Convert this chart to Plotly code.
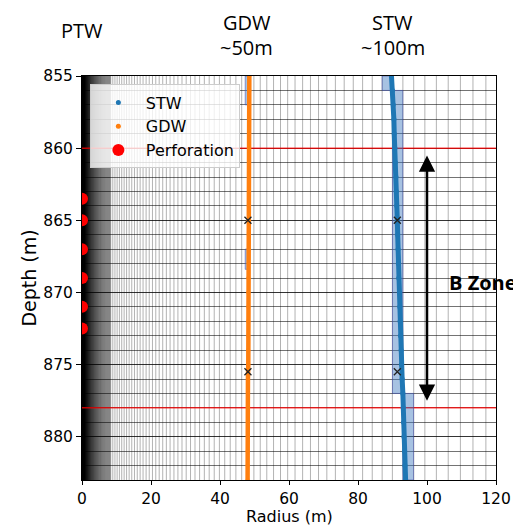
import plotly.graph_objects as go

# ---------------- data ----------------
depth_stw = [855, 856, 857, 858, 859, 860, 861, 862, 863, 864, 865, 866, 867, 868, 869,
             870, 871, 872, 873, 874, 875, 876, 877, 878, 879, 880, 881, 882, 883]
radius_stw = [89.7, 90.0, 90.2, 90.4, 90.5, 90.7, 90.8, 91.0, 91.1, 91.2, 91.4, 91.5, 91.6, 91.7, 91.8,
              92.0, 92.1, 92.2, 92.3, 92.5, 92.6, 92.8, 93.0, 93.1, 93.2, 93.3, 93.5, 93.6, 93.8]

depth_gdw = depth_stw
radius_gdw = [48.5, 48.5, 48.5, 48.5, 48.4, 48.4, 48.4, 48.4, 48.4, 48.3, 48.3, 48.3, 48.3, 48.3, 48.2,
              48.2, 48.2, 48.2, 48.2, 48.2, 48.2, 48.1, 48.1, 48.1, 48.1, 48.1, 48.0, 48.0, 48.0]

perf_depth = [863.5, 865, 867, 869, 871, 872.5]
perf_radius = [0, 0, 0, 0, 0, 0]

obs_radius = [48.1, 48.1, 91.4, 91.4]
obs_depth = [865, 875.5, 865, 875.5]

zone_lines = [860, 878]

stw_cell_top = [855, 856, 877]
stw_cell_bottom = [856, 877, 883]
stw_cell_left = [87.0, 90.0, 93.0]
stw_cell_right = [90.0, 93.0, 96.1]

gdw_cell_top = [855, 867]
gdw_cell_bottom = [857, 868.4]
gdw_cell_left = [47.3, 47.3]
gdw_cell_right = [48.3, 48.3]

well_names = ["PTW", "GDW", "STW"]
well_dist = ["", "~50m", "~100m"]
well_label_r = [0, 47.7, 90.1]

zone_arrow_r = 100
zone_arrow_top = 860.4
zone_arrow_bottom = 877.5
zone_text = "B Zone"

x_title = "Radius (m)"
y_title = "Depth (m)"
x_ticks = [0, 20, 40, 60, 80, 100, 120]
y_ticks = [855, 860, 865, 870, 875, 880]

# ---------------- radial simulation mesh (background) ----------------
ANCHOR, GROWTH, ADD = 87.0, 0.03, 0.35
mesh = [ANCHOR]
r = ANCHOR
while r < 121:
    r = r + GROWTH * r + ADD
    mesh.append(r)
r = ANCHOR
while True:
    r = (r - ADD) / (1 + GROWTH)
    if r < 8:
        break
    mesh.insert(0, r)
r = mesh[0]
while r > 0.03:
    r = r - min(0.15, 0.02 * r + 0.01)
    if r > 0:
        mesh.insert(0, r)

BLUE = "#1f77b4"
ORANGE = "#ff7f0e"

fig = go.Figure()

# red zone lines
for d in zone_lines:
    fig.add_trace(go.Scatter(x=[0, 120], y=[d, d], mode="lines",
                             line=dict(color="rgba(255,0,0,0.75)", width=1.5),
                             showlegend=False, hoverinfo="skip"))

# front cells
for t, b, l, rr in zip(stw_cell_top, stw_cell_bottom, stw_cell_left, stw_cell_right):
    fig.add_trace(go.Scatter(x=[l, rr, rr, l, l], y=[t, t, b, b, t], mode="lines",
                             fill="toself", fillcolor="rgba(60,120,190,0.45)",
                             line=dict(color="rgba(70,80,170,0.55)", width=1),
                             showlegend=False, hoverinfo="skip"))
for t, b, l, rr in zip(gdw_cell_top, gdw_cell_bottom, gdw_cell_left, gdw_cell_right):
    fig.add_trace(go.Scatter(x=[l, rr, rr, l, l], y=[t, t, b, b, t], mode="lines",
                             fill="toself", fillcolor="rgba(60,120,190,0.45)",
                             line=dict(color="rgba(70,80,170,0.55)", width=1),
                             showlegend=False, hoverinfo="skip"))

# STW / GDW fronts
fig.add_trace(go.Scatter(x=radius_stw, y=depth_stw, mode="lines+markers",
                         line=dict(color=BLUE, width=5),
                         marker=dict(color=BLUE, size=5),
                         showlegend=False))
fig.add_trace(go.Scatter(x=radius_gdw, y=depth_gdw, mode="lines+markers",
                         line=dict(color=ORANGE, width=4.5),
                         marker=dict(color=ORANGE, size=4),
                         showlegend=False))

# perforations
fig.add_trace(go.Scatter(x=perf_radius, y=perf_depth, mode="markers",
                         marker=dict(color="red", size=12), cliponaxis=True,
                         showlegend=False))

# observation points
fig.add_trace(go.Scatter(x=obs_radius, y=obs_depth, mode="markers",
                         marker=dict(symbol="x-thin", size=7,
                                     line=dict(color="#222222", width=1.3)),
                         showlegend=False))

# legend-only entries
fig.add_trace(go.Scatter(x=[None], y=[None], mode="markers", name="STW",
                         marker=dict(color=BLUE, size=5)))
fig.add_trace(go.Scatter(x=[None], y=[None], mode="markers", name="GDW",
                         marker=dict(color=ORANGE, size=5)))
fig.add_trace(go.Scatter(x=[None], y=[None], mode="markers", name="Perforation",
                         marker=dict(color="red", size=12)))

shapes = []
for m in mesh:
    if 0 < m < 120:
        shapes.append(dict(type="line", xref="x", yref="paper", x0=m, x1=m, y0=0, y1=1,
                           line=dict(color="rgba(0,0,0,0.3)", width=1), layer="below"))

PLOT_H = 404.0
TOP = 68.0
annotations = []
LABEL_FONT = dict(family="Open Sans", size=20, color="black")
for name, dist, xr in zip(well_names, well_dist, well_label_r):
    if dist:
        annotations.append(dict(text=name, x=xr, xref="x", y=1 + TOP / PLOT_H, yref="paper",
                                xanchor="center", yanchor="top", showarrow=False,
                                borderpad=0, font=LABEL_FONT))
        annotations.append(dict(text=dist, x=xr, xref="x", y=1 + (TOP - 40) / PLOT_H, yref="paper",
                                xanchor="center", yanchor="middle", showarrow=False,
                                borderpad=0, font=LABEL_FONT))
    else:
        annotations.append(dict(text=name, x=xr, xref="x", y=1 + (TOP - 22.3) / PLOT_H, yref="paper",
                                xanchor="center", yanchor="middle", showarrow=False,
                                borderpad=0, font=LABEL_FONT))
annotations.append(dict(text="", x=zone_arrow_r, y=zone_arrow_bottom, xref="x", yref="y",
                        ax=zone_arrow_r, ay=zone_arrow_top, axref="x", ayref="y",
                        showarrow=True, arrowside="end+start", arrowhead=2,
                        arrowsize=1.3, arrowwidth=2.5, arrowcolor="black"))
annotations.append(dict(text="<b>" + zone_text + "</b>", x=116.2, y=869.3, xref="x", yref="y",
                        xanchor="center", yanchor="middle", showarrow=False,
                        font=dict(family="Open Sans", size=20, color="black")))
# x-axis title placed explicitly below the tick labels
annotations.append(dict(text=x_title, x=0.5, xref="paper", y=-36.5 / PLOT_H, yref="paper",
                        xanchor="center", yanchor="middle", showarrow=False, borderpad=0,
                        font=dict(family="DejaVu Sans", size=16, color="black")))

# page body has an 8px margin, so the figure is 8px smaller and margins shifted
fig.update_layout(
    width=513, height=518,
    margin=dict(l=74, r=25, t=68, b=46, autoexpand=False),
    paper_bgcolor="white", plot_bgcolor="white",
    font=dict(family="DejaVu Sans", size=16, color="black"),
    shapes=shapes,
    annotations=annotations,
    legend=dict(x=0.019, y=0.979, xanchor="left", yanchor="top",
                bgcolor="rgba(255,255,255,0.8)", bordercolor="#cccccc", borderwidth=1,
                itemwidth=45,
                font=dict(family="DejaVu Sans", size=16)),
    xaxis=dict(range=[0, 120], tickvals=x_ticks, showgrid=False, zeroline=False,
               automargin=False,
               showline=True, mirror=True, linecolor="black", linewidth=1,
               ticks="outside", ticklen=4, tickcolor="black",
               tickfont=dict(size=15.5)),
    yaxis=dict(range=[883, 855], tickvals=y_ticks, showgrid=True,
               gridcolor="rgba(0,0,0,0.55)", gridwidth=1, zeroline=False,
               automargin=False,
               minor=dict(dtick=1, tick0=855, showgrid=True, gridcolor="rgba(0,0,0,0.55)", gridwidth=1),
               showline=True, mirror=True, linecolor="black", linewidth=1,
               ticks="outside", ticklen=5, tickcolor="black",
               tickfont=dict(size=15.5),
               title=dict(text=y_title, standoff=1)),
)

fig.write_html("out.html")
